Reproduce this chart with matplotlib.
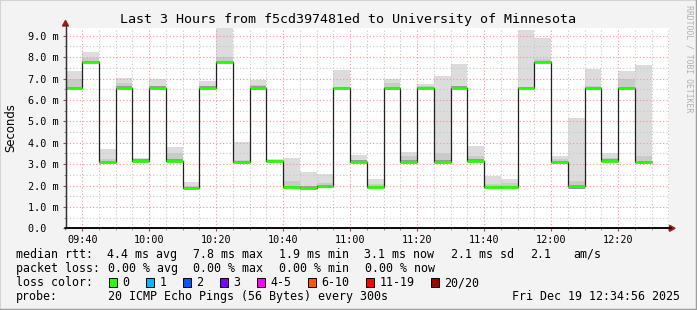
import matplotlib
matplotlib.use('Agg')
import matplotlib.pyplot as plt
from matplotlib.patches import Polygon, Rectangle
from matplotlib.lines import Line2D
import numpy as np

# ---------------- data ----------------
title = "Last 3 Hours from f5cd397481ed to University of Minnesota"

bar_starts = ["09:35", "09:40", "09:45", "09:50", "09:55", "10:00", "10:05",
              "10:10", "10:15", "10:20", "10:25", "10:30", "10:35", "10:40",
              "10:45", "10:50", "10:55", "11:00", "11:05", "11:10", "11:15",
              "11:20", "11:25", "11:30", "11:35", "11:40", "11:45", "11:50",
              "11:55", "12:00", "12:05", "12:10", "12:15", "12:20", "12:25"]

median_ms = [6.55, 7.77, 3.08, 6.57, 3.16, 6.57, 3.16, 1.88, 6.57, 7.77,
             3.10, 6.57, 3.13, 1.94, 1.90, 1.96, 6.56, 3.11, 1.94, 6.55,
             3.11, 6.55, 3.11, 6.57, 3.16, 1.94, 1.94, 6.56, 7.77, 3.10,
             1.98, 6.56, 3.16, 6.56, 3.10]

smoke_lo_ms = [6.50, 7.72, 3.03, 6.50, 3.10, 6.52, 3.10, 1.83, 6.50, 7.72,
               3.05, 6.45, 3.08, 1.86, 1.85, 1.88, 6.51, 3.06, 1.87, 6.48,
               3.06, 6.50, 3.06, 6.52, 3.11, 1.88, 1.87, 6.51, 7.72, 3.05,
               1.85, 6.48, 3.11, 6.51, 3.05]

smoke_dense_ms = [7.00, 7.95, 3.25, 6.80, 3.20, 6.65, 3.50, 2.00, 6.65, 8.00,
                  3.20, 6.70, 3.20, 2.20, 2.00, 2.10, 6.60, 3.20, 2.05, 6.80,
                  3.40, 6.65, 3.50, 6.60, 3.40, 2.05, 2.10, 6.60, 7.90, 3.25,
                  2.20, 6.65, 3.30, 7.00, 3.40]

smoke_hi_ms = [7.36, 8.25, 3.70, 7.04, 3.30, 6.98, 3.81, 2.18, 6.90, 9.60,
               4.05, 6.93, 3.25, 3.30, 2.63, 2.52, 7.40, 3.43, 2.30, 6.97,
               3.57, 6.74, 7.12, 7.68, 3.84, 2.46, 2.30, 9.26, 8.88, 3.38,
               5.15, 7.44, 3.50, 7.35, 7.63]

x_tick_labels = ["09:40", "10:00", "10:20", "10:40", "11:00", "11:20",
                 "11:40", "12:00", "12:20"]
y_tick_values = [0, 1, 2, 3, 4, 5, 6, 7, 8, 9]

rtt_label = "median rtt:"
rtt_stats = ["4.4 ms avg", "7.8 ms max", "1.9 ms min", "3.1 ms now",
             "2.1 ms sd", "2.1", "am/s"]
loss_label = "packet loss:"
loss_stats = ["0.00 % avg", "0.00 % max", "0.00 % min", "0.00 % now"]
color_label = "loss color:"
loss_labels = ["0", "1", "2", "3", "4-5", "6-10", "11-19", "20/20"]
loss_colors = ["#26ff00", "#00b8ff", "#0059ff", "#7e00ff", "#ff00ff",
               "#ff5500", "#ff0000", "#a10000"]
probe_label = "probe:"
probe_text = "20 ICMP Echo Pings (56 Bytes) every 300s"
timestamp = "Fri Dec 19 12:34:56 2025"
watermark = "RRDTOOL / TOBI OETIKER"

# ---------------- helpers ----------------
W, H, DPI = 697, 310, 100
MONO = "DejaVu Sans Mono"


def to_min(s):
    h, m = s.split(":")
    return int(h) * 60 + int(m)


def fx(x):
    return x / W


def fy(y):
    return 1 - y / H


starts = np.array([to_min(s) for s in bar_starts], dtype=float)
step = 5.0
edges = np.append(starts, starts[-1] + step)
x_min, x_max = to_min("09:35"), to_min("12:35")

fig = plt.figure(figsize=(W / DPI, H / DPI), dpi=DPI)
fig.patch.set_facecolor("#f3f3f3")

L, R, T, B = 65.5, 668.5, 27.7, 228.3
ax = fig.add_axes([fx(L), fy(B), fx(R - L), (B - T) / H])
ax.set_facecolor("white")
ax.set_xlim(x_min, x_max)
ax.set_ylim(0, 9.374)

med = np.array(median_ms)
lo = np.array(smoke_lo_ms)
dn = np.array(smoke_dense_ms)
hi = np.array(smoke_hi_ms)

# smoke
ax.bar(starts, hi - lo, bottom=lo, width=step, align="edge",
       color="#dcdcdc", linewidth=0, zorder=1)
ax.bar(starts, dn - lo, bottom=lo, width=step, align="edge",
       color="#cacaca", linewidth=0, zorder=1.1)
ax.bar(starts, (med + 0.06) - lo, bottom=lo, width=step, align="edge",
       color="#9a9a9a", linewidth=0, zorder=1.2)

# grid
dot = (0, (1, 2))
for m in np.arange(x_min, x_max + 0.1, 5):
    major = (int(m) - to_min("09:40")) % 20 == 0
    ax.axvline(m, color="#ff9090" if major else "#c8c8c8", lw=0.8,
               ls=dot, zorder=2)
for v in np.arange(0.5, 9.4, 0.5):
    major = abs(v - round(v)) < 1e-6
    ax.axhline(v, color="#ff9090" if major else "#c8c8c8", lw=0.8,
               ls=dot, zorder=2)

# median line
ax.stairs(med, edges, baseline=None, color="#202020", lw=0.9, zorder=3)
ax.hlines(med, starts, starts + step, color=loss_colors[0], lw=2.0,
          zorder=4)

# axes styling
for s in ["top", "right"]:
    ax.spines[s].set_visible(False)
ax.spines["left"].set_color("#303030")
ax.spines["bottom"].set_color("#000000")
ax.spines["left"].set_linewidth(0.9)
ax.spines["bottom"].set_linewidth(1.1)
ax.spines["left"].set_zorder(5)
ax.spines["bottom"].set_zorder(5)

xt = [to_min(s) for s in x_tick_labels]
ax.set_xticks(xt)
ax.set_xticklabels(x_tick_labels, family=MONO, fontsize=7.3)
ax.set_xticks(np.arange(x_min, x_max + 0.1, 5), minor=True)
ax.tick_params(axis="x", which="major", length=2.2, width=0.8, pad=2.6,
               color="#c04040")
ax.tick_params(axis="x", which="minor", length=1.2, width=0.6,
               color="#808080")

ax.set_yticks(y_tick_values)
ax.set_yticklabels([("%.1f m" % v) if v else "0.0  " for v in y_tick_values],
                   family=MONO, fontsize=7.3)
ax.set_yticks(np.arange(0.5, 9.4, 0.5), minor=True)
ax.tick_params(axis="y", which="major", length=2.0, width=0.8, pad=2.6,
               color="#c04040")
ax.tick_params(axis="y", which="minor", length=1.2, width=0.6,
               color="#808080")

# arrows
fig.add_artist(Line2D([fx(L), fx(L)], [fy(B), fy(25)], color="#303030",
                      lw=0.9, transform=fig.transFigure))
fig.add_artist(Polygon([[fx(L), fy(20.5)], [fx(L - 3), fy(26)],
                        [fx(L + 3), fy(26)]], closed=True,
                       color="#a01818", transform=fig.transFigure))
fig.add_artist(Line2D([fx(L), fx(671)], [fy(B), fy(B)], color="#000000",
                      lw=1.1, transform=fig.transFigure))
fig.add_artist(Polygon([[fx(675), fy(B)], [fx(669.5), fy(B - 3)],
                        [fx(669.5), fy(B + 3)]], closed=True,
                       color="#a01818", transform=fig.transFigure))

# title and labels
fig.text(fx(348), fy(19.3), title, family=MONO, fontsize=9.6,
         ha="center", va="center", color="#000000")
fig.text(fx(11), fy(128), "Seconds", family="DejaVu Sans", fontsize=8.4,
         rotation=90, ha="center", va="center")
fig.text(fx(688.5), fy(59), watermark, family=MONO, fontsize=5.9,
         rotation=270, ha="center", va="center", color="#b0b0b0")

# legend rows
LF = 8.4
rows_y = [254.3, 268.3, 282.5, 296.5]
fig.text(fx(15.6), fy(rows_y[0]), rtt_label, family=MONO, fontsize=LF,
         va="center")
for txt, x in zip(rtt_stats, [106.7, 193, 279, 364, 451, 530, 573]):
    fig.text(fx(x), fy(rows_y[0]), txt, family=MONO, fontsize=LF,
             va="center")
fig.text(fx(15.6), fy(rows_y[1]), loss_label, family=MONO, fontsize=LF,
         va="center")
for txt, x in zip(loss_stats, [107.5, 193, 279, 365]):
    fig.text(fx(x), fy(rows_y[1]), txt, family=MONO, fontsize=LF,
             va="center")
fig.text(fx(15.6), fy(rows_y[2]), color_label, family=MONO, fontsize=LF,
         va="center")
for lab, col, x in zip(loss_labels, loss_colors,
                       [108.5, 145.5, 182.5, 219.5, 256.5, 307.5, 365.5, 430.5]):
    fig.add_artist(Rectangle((fx(x), fy(rows_y[2] + 4.5)), 8 / W, 9 / H,
                             facecolor=col, edgecolor="black", lw=0.7,
                             transform=fig.transFigure))
    fig.text(fx(x + 14), fy(rows_y[2]), lab, family=MONO, fontsize=LF,
             va="center")
fig.text(fx(15.6), fy(rows_y[3]), probe_label, family=MONO, fontsize=LF,
         va="center")
fig.text(fx(107.5), fy(rows_y[3]), probe_text, family=MONO, fontsize=LF,
         va="center")
fig.text(fx(680.5), fy(rows_y[3]), timestamp, family=MONO, fontsize=LF,
         va="center", ha="right")

# 3D frame
fig.add_artist(Line2D([0, 0, 1], [0, 1, 1], color="#d4d4d4", lw=1.5,
                      transform=fig.transFigure))
fig.add_artist(Line2D([0, 1, 1], [0, 0, 1], color="#9e9e9e", lw=2.5,
                      transform=fig.transFigure))

fig.savefig("out.png", dpi=DPI, facecolor=fig.get_facecolor())
